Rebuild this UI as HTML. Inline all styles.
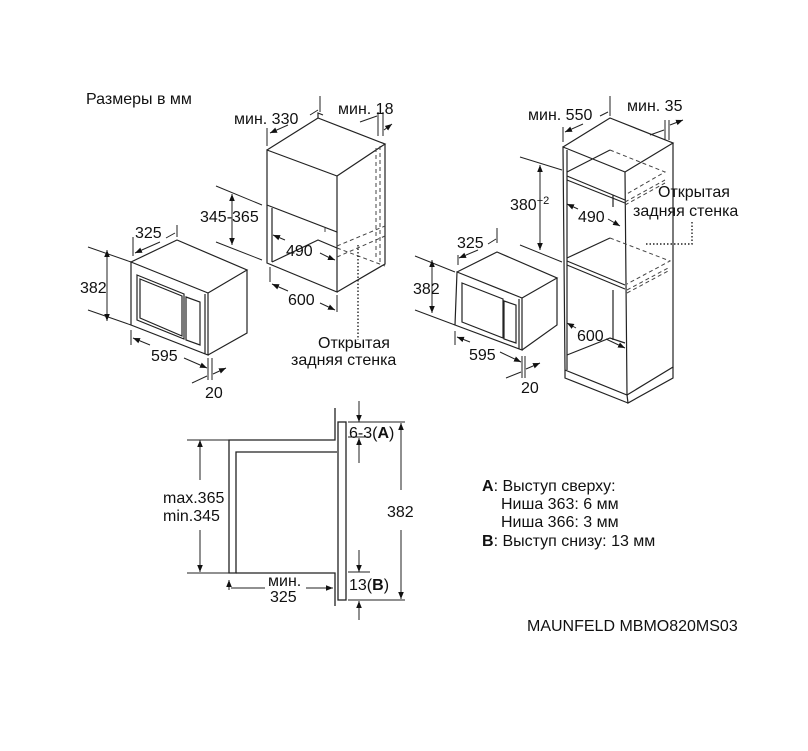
<!DOCTYPE html>
<html><head><meta charset="utf-8"><style>
body{margin:0;background:#fff}
svg{display:block}
text{font-family:"Liberation Sans",sans-serif;fill:#111}
</style></head><body>
<svg width="808" height="751" viewBox="0 0 808 751" xmlns="http://www.w3.org/2000/svg">
<defs>
<marker id="a" viewBox="0 0 10 10" refX="10" refY="5" markerWidth="7" markerHeight="7" orient="auto-start-reverse"><path d="M0,1 L10,5 L0,9 z" fill="#111"/></marker>
</defs>
<g stroke="#222" stroke-width="1.2" fill="none">
<path d="M131,262 L208,293 L208,355 L131,325 Z"/>
<path d="M131,262 L177,240 L247,270 L208,293"/>
<path d="M247,270 L247,333 L208,355"/>
<path d="M205,294 L205,354" />
<path d="M137,275 L184,294 L184,339 L137,320 Z"/>
<path d="M140,279 L182,296 L182,336 L140,318 Z"/>
<path d="M186,297 L200,302 L200,345 L186,340 Z"/>
<path d="M267,150 L337,176 L337,232 L267,205 Z"/>
<path d="M267,150 L318,118 L385,144 L337,176"/>
<path d="M385,144 L385,264 L337,292"/>
<path d="M267,205 L267,263 L337,292 L337,232"/>
<path d="M272,208 L272,262"/>
<path d="M272,262 L318,240 L337,248"/>
<path d="M318,118 L318,113 L323,115"/>
</g>
<g stroke="#444" stroke-width="1" fill="none" stroke-dasharray="4,3">
<path d="M376,148 L376,260 M380,146 L380,262"/>
<path d="M337,246 L385,226 M337,257 L385,236"/>
<path d="M325,228 L325,232 M337,248 L385,266"/>
</g>
<path d="M358,245 L358,340" stroke="#222" stroke-width="1.4" stroke-dasharray="1.5,2" fill="none"/>
<g stroke="#222" stroke-width="1.2" fill="none">
<path d="M457,272 L522,298 L522,350 L455,325 Z"/>
<path d="M457,272 L497,252 L557,278 L522,298"/>
<path d="M557,278 L557,325 L522,350"/>
<path d="M519,299 L519,349"/>
<path d="M462,283 L503,299 L503,338 L462,322 Z"/>
<path d="M504,301 L516,305 L516,343 L504,339 Z"/>
<path d="M563,147 L625,172 L627,395 L565,370 Z"/>
<path d="M567,150 L567,370"/>
<path d="M563,147 L610,118 L673,143 L625,172"/>
<path d="M673,143 L673,367 L627,395"/>
<path d="M627,395 L628,403 L673,378 L673,367"/>
<path d="M565,370 L565,378 L628,403"/>
<path d="M567,172 L610,150 M567,176 L625,200 M567,180 L625,203"/>
<path d="M567,258 L610,238 M567,261 L625,285 M567,265 L625,289"/>
<path d="M567,355 L610,338 L625,343"/>
<path d="M613,195 L613,207 M613,290 L613,340"/>
</g>
<g stroke="#444" stroke-width="1" fill="none" stroke-dasharray="4,3">
<path d="M610,150 L665,172 L625,195 M625,202 L665,180 M625,205 L665,183"/>
<path d="M610,238 L670,261 L627,284 M627,290 L670,267 M627,293 L670,270"/>
</g>
<path d="M646,244 L692,244 L692,220" stroke="#222" stroke-width="1.4" stroke-dasharray="1.5,2" fill="none"/>
<g stroke="#222" stroke-width="1" fill="none">
<path d="M88,247 L131,262 M88,310 L131,325"/>
<path d="M107,250 L107,321" marker-start="url(#a)" marker-end="url(#a)"/>
<path d="M133,237 L133,256 M177,225 L177,237"/>
<path d="M135,253 L160,242 M166,238 L175,233" marker-start="url(#a)"/>
<path d="M131,330 L131,345 M208,358 L208,380 M212,358 L212,380"/>
<path d="M133,338 L150,345 M184,358 L207,368" marker-start="url(#a)" marker-end="url(#a)"/>
<path d="M192,383 L207,376 M213,374 L226,368" marker-end="url(#a)"/>
<path d="M216,186 L262,205 M216,242 L262,260"/>
<path d="M232,194 L232,245" marker-start="url(#a)" marker-end="url(#a)"/>
<path d="M267,128 L267,146 M320,96 L320,112"/>
<path d="M270,133 L288,125 M310,115 L318,110" marker-start="url(#a)"/>
<path d="M378,112 L378,136 M383,112 L383,136"/>
<path d="M360,122 L377,116 M384,130 L392,124" marker-end="url(#a)"/>
<path d="M273,235 L285,240 M320,253 L330,258" marker-start="url(#a)"/>
<path d="M330,258 L335,260" marker-end="url(#a)"/>
<path d="M270,267 L270,282 M337,295 L337,312"/>
<path d="M272,284 L288,291 M320,303 L335,310" marker-start="url(#a)" marker-end="url(#a)"/>
<path d="M415,256 L455,272 M415,310 L455,325"/>
<path d="M432,260 L432,313" marker-start="url(#a)" marker-end="url(#a)"/>
<path d="M458,255 L458,265 M497,228 L497,243"/>
<path d="M459,258 L478,250 M488,244 L496,239" marker-start="url(#a)"/>
<path d="M455,331 L455,345 M522,356 L522,378 M525,356 L525,378"/>
<path d="M457,337 L470,342 M500,352 L521,362" marker-start="url(#a)" marker-end="url(#a)"/>
<path d="M506,378 L521,372 M526,369 L540,363" marker-end="url(#a)"/>
<path d="M520,157 L562,170 M520,245 L562,262"/>
<path d="M540,165 L540,250" marker-start="url(#a)" marker-end="url(#a)"/>
<path d="M563,127 L563,142 M610,96 L610,116"/>
<path d="M565,132 L583,124 M600,116 L608,112" marker-start="url(#a)"/>
<path d="M665,120 L665,140 M669,120 L669,140"/>
<path d="M650,135 L664,130 M670,125 L683,120" marker-end="url(#a)"/>
<path d="M567,204 L578,209 M608,219 L620,226" marker-start="url(#a)" marker-end="url(#a)"/>
<path d="M567,323 L576,328 M606,339 L625,348" marker-start="url(#a)" marker-end="url(#a)"/>
</g>
<g stroke="#222" stroke-width="1.3" fill="none">
<path d="M335,408 L335,440 L229,440 L229,573 L236,573 L236,452 L337,452"/>
<path d="M236,573 L335,573 L335,606"/>
<rect x="338" y="422" width="8" height="178"/>
</g>
<g stroke="#222" stroke-width="1" fill="none">
<path d="M187,440 L229,440 M187,573 L229,573"/>
<path d="M200,480 L200,440" marker-end="url(#a)"/>
<path d="M200,530 L200,572" marker-end="url(#a)"/>
<path d="M229,580 L229,590 M231,588 L265,588" marker-start="url(#a)"/>
<path d="M306,588 L333,588" marker-end="url(#a)"/>
<path d="M348,422 L405,422 M348,437 L370,437 M348,572 L370,572 M348,600 L405,600"/>
<path d="M359,401 L359,422" marker-end="url(#a)"/>
<path d="M359,463 L359,438" marker-end="url(#a)"/>
<path d="M359,550 L359,572" marker-end="url(#a)"/>
<path d="M359,620 L359,601" marker-end="url(#a)"/>
<path d="M401,490 L401,423" marker-end="url(#a)"/>
<path d="M401,530 L401,599" marker-end="url(#a)"/>
</g>
<g font-size="16">
<text x="86" y="104">Размеры в мм</text>
<text x="234" y="124">мин. 330</text>
<text x="338" y="114">мин. 18</text>
<text x="135" y="238">325</text>
<text x="80" y="293">382</text>
<text x="200" y="222">345-365</text>
<text x="286" y="256">490</text>
<text x="288" y="305">600</text>
<text x="151" y="361">595</text>
<text x="205" y="398">20</text>
<text x="318" y="348">Открытая</text>
<text x="291" y="365">задняя стенка</text>
<text x="528" y="120">мин. 550</text>
<text x="627" y="111">мин. 35</text>
<text x="457" y="248">325</text>
<text x="413" y="294">382</text>
<text x="510" y="210">380<tspan font-size="11" dy="-6">+2</tspan></text>
<text x="578" y="222">490</text>
<text x="577" y="341">600</text>
<text x="469" y="360">595</text>
<text x="521" y="393">20</text>
<text x="658" y="197">Открытая</text>
<text x="633" y="216">задняя стенка</text>
<text x="163" y="503">max.365</text>
<text x="163" y="521">min.345</text>
<text x="268" y="586">мин.</text>
<text x="270" y="602">325</text>
<text x="349" y="438">6-3(<tspan font-weight="bold">A</tspan>)</text>
<text x="387" y="517">382</text>
<text x="349" y="590">13(<tspan font-weight="bold">B</tspan>)</text>
<text x="482" y="491"><tspan font-weight="bold">A</tspan>: Выступ сверху:</text>
<text x="501" y="509">Ниша 363: 6 мм</text>
<text x="501" y="527">Ниша 366: 3 мм</text>
<text x="482" y="546"><tspan font-weight="bold">B</tspan>: Выступ снизу: 13 мм</text>
<text x="527" y="631">MAUNFELD MBMO820MS03</text>
</g>
</svg>
</body></html>
